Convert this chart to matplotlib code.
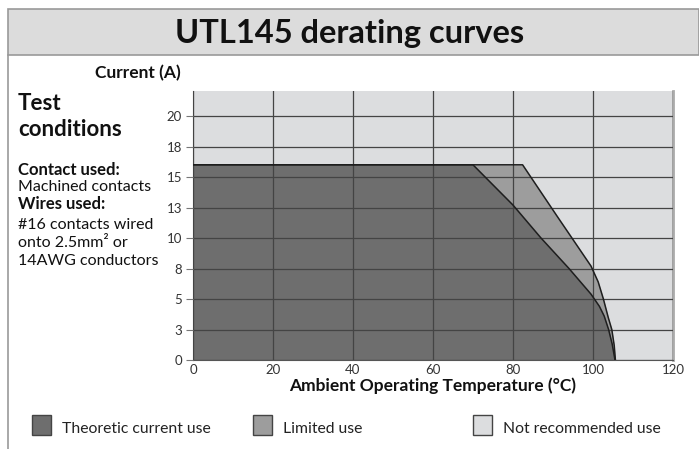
import matplotlib.pyplot as plt
from matplotlib.patches import Rectangle

plt.rcParams['font.family'] = ['Lato', 'DejaVu Sans']

# derating curves (temperature °C, current A)
theoretic_temp = [0, 70, 80, 87, 94, 99.5, 101.6, 102.8, 103.9, 104.8, 105.5]
theoretic_curr = [16, 16, 12.7, 10, 7.5, 5.4, 4.4, 3.6, 2.5, 1.3, 0]
limited_temp = [0, 82.4, 91, 99.5, 101.3, 102.6, 103.8, 104.7, 105.3, 105.6]
limited_curr = [16, 16, 11.8, 7.7, 6.4, 5, 3.5, 2.5, 1.2, 0]

y_ticks = [0, 2.5, 5, 7.5, 10, 12.5, 15, 17.5, 20]
y_labels = ["0", "3", "5", "8", "10", "13", "15", "18", "20"]
x_ticks = [0, 20, 40, 60, 80, 100, 120]

legend_labels = ["Theoretic current use", "Limited use", "Not recommended use"]
legend_colors = ["#6e6e6e", "#9d9d9d", "#dcdddf"]

W, H = 699, 449
fig = plt.figure(figsize=(W / 100, H / 100), dpi=100)
fig.patch.set_facecolor("white")

def px(x, y):
    return x / W, 1 - y / H

# frame and title band
band_l, band_t = px(8, 9)
band_r, band_b = px(699, 55)
fig.patches.append(Rectangle((band_l, band_b), band_r - band_l, band_t - band_b,
                             transform=fig.transFigure, facecolor="#dcdcdc",
                             edgecolor="#999999", lw=1.2))
fig.add_artist(plt.Line2D([band_l, band_l], [0, band_b], transform=fig.transFigure,
                          color="#999999", lw=1.2))
fig.text(0.5, px(0, 33)[1], "UTL145 derating curves", ha="center", va="center",
         fontsize=23.5, fontweight="bold", color="#111111")

# left side notes
fig.text(*px(138, 73), "Current (A)", ha="center", va="center", fontsize=12.5,
         fontweight="bold", color="#111111")
fig.text(*px(18, 103), "Test", ha="left", va="center", fontsize=16,
         fontweight="bold", color="#111111")
fig.text(*px(18, 130), "conditions", ha="left", va="center", fontsize=16,
         fontweight="bold", color="#111111")
notes = [("Contact used:", "bold", 12, 170), ("Machined contacts", "normal", 11.5, 187),
         ("Wires used:", "bold", 12, 204), ("#16 contacts wired", "normal", 11.5, 225),
         ("onto 2.5mm² or", "normal", 11.5, 243), ("14AWG conductors", "normal", 11.5, 261)]
for txt, wt, fs, yy in notes:
    fig.text(*px(18, yy), txt, ha="left", va="center", fontsize=fs,
             fontweight=wt, color="#111111")

# plot area
x0, y0 = px(193, 360)
x1, y1 = px(673, 91)
ax = fig.add_axes([x0, y0, x1 - x0, y1 - y0])
ax.set_facecolor("#dcdddf")
ax.set_xlim(0, 120)
ax.set_ylim(0, 22.05)

ax.fill_between(limited_temp, limited_curr, 0, color="#9d9d9d", lw=0, zorder=1)
ax.fill_between(theoretic_temp, theoretic_curr, 0, color="#6e6e6e", lw=0, zorder=2)
ax.plot(limited_temp, limited_curr, color="#1e1e1e", lw=1.1, zorder=4)
ax.plot(theoretic_temp, theoretic_curr, color="#1e1e1e", lw=1.1, zorder=4)

ax.set_yticks(y_ticks)
ax.set_yticklabels(y_labels)
ax.set_xticks(x_ticks)
ax.grid(True, color="#444444", lw=0.9, zorder=3)
ax.set_axisbelow(False)
ax.tick_params(axis="y", length=5, width=0.8, color="#777777", pad=3,
               labelsize=9.5, labelcolor="#333333")
ax.tick_params(axis="x", length=0, pad=3, labelsize=9.5, labelcolor="#333333")
ax.spines["top"].set_visible(False)
ax.spines["right"].set_color("#aaaaaa")
ax.spines["right"].set_linewidth(2)
ax.spines["left"].set_color("#555555")
ax.spines["bottom"].set_color("#555555")
ax.set_xlabel("Ambient Operating Temperature (°C)", fontsize=12.5, fontweight="bold",
              color="#111111", labelpad=1)

# legend
legend_x = [32, 253, 473]
for lx, lab, col in zip(legend_x, legend_labels, legend_colors):
    sx, sy = px(lx, 435)
    fig.patches.append(Rectangle((sx, sy), 19 / W, 20 / H, transform=fig.transFigure,
                                 facecolor=col, edgecolor="#444444", lw=1))
    fig.text(*px(lx + 30, 429), lab, ha="left", va="center", fontsize=11.3,
             color="#222222")

fig.savefig("out.png", dpi=100)
